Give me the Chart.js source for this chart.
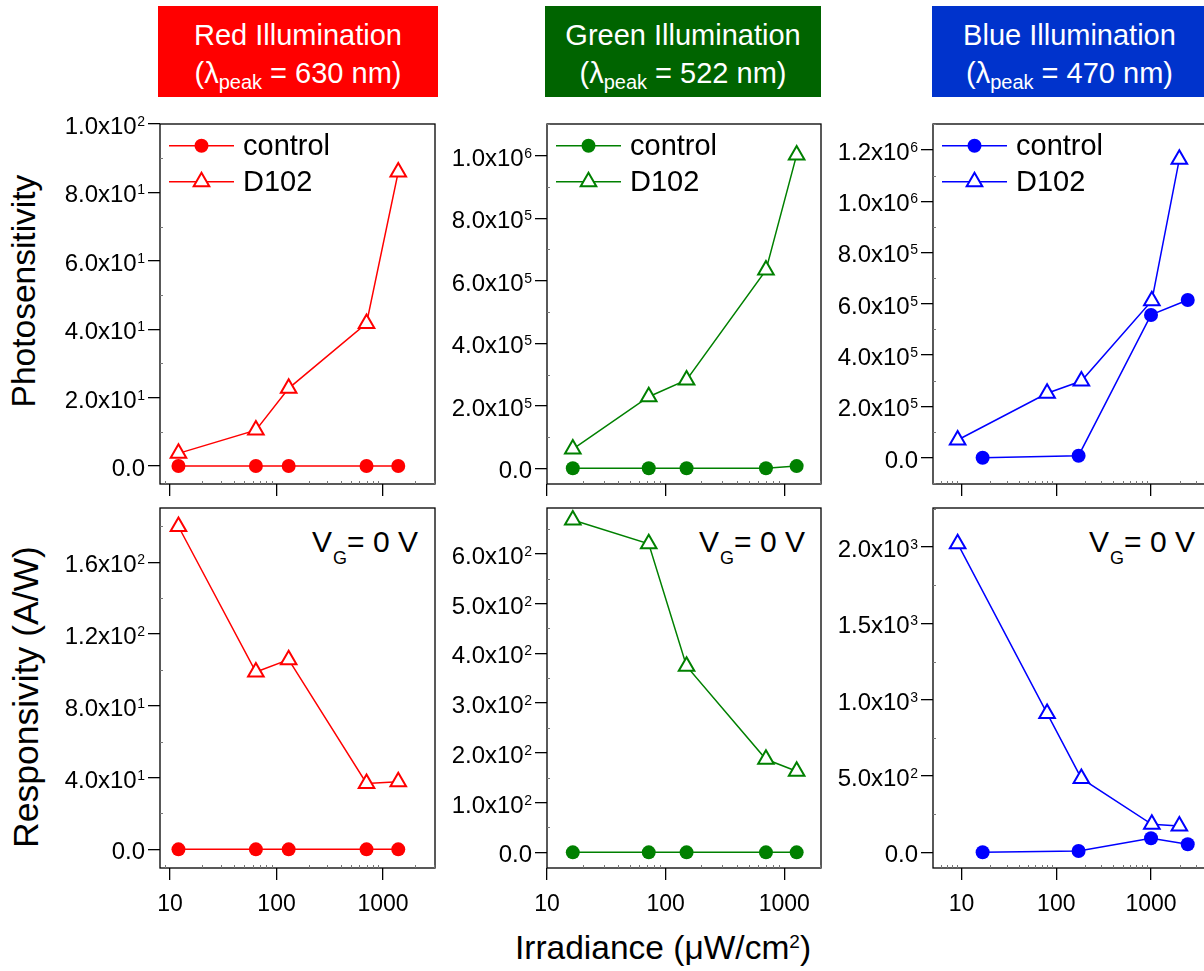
<!DOCTYPE html>
<html>
<head>
<meta charset="utf-8">
<script src="https://cdn.jsdelivr.net/npm/chart.js@4.4.1/dist/chart.umd.min.js"></script>
<style>
  html, body { margin:0; padding:0; }
  body { width:1204px; height:971px; overflow:hidden; background:#fff; position:relative;
         font-family:"Liberation Sans", Arial, sans-serif; color:#000; }
  canvas { position:absolute; }
  .tb { position:absolute; top:6px; height:91px; color:#fff; text-align:center; }
  .tb .l1, .tb .l2 { position:absolute; left:0; right:0; font-size:29px; line-height:30px; white-space:nowrap; }
  .tb .l1 { top:14px; }
  .tb .l2 { top:52px; }
  .tb .sub { font-size:20px; position:relative; top:6px; }
  .ytitle { position:absolute; width:420px; text-align:center; transform:rotate(-90deg); white-space:nowrap; }
  .xtitle { position:absolute; left:463px; width:400px; top:931.4px; font-size:33.5px; line-height:34px; text-align:center; white-space:nowrap; }
  .xtitle .sup { font-size:19px; position:relative; top:-11px; }
  .vg { position:absolute; top:527px; width:220px; text-align:right; font-size:30px; line-height:30px; white-space:nowrap; }
  .vg .vsub { font-size:18px; position:relative; top:12px; margin-left:1px; }
</style>
</head>
<body>

<div class="tb" style="left:158px;width:280px;background:#ff0000;">
  <div class="l1">Red Illumination</div>
  <div class="l2">(λ<span class="sub">peak</span> = 630 nm)</div>
</div>
<div class="tb" style="left:545px;width:276px;background:#006400;">
  <div class="l1">Green Illumination</div>
  <div class="l2">(λ<span class="sub">peak</span> = 522 nm)</div>
</div>
<div class="tb" style="left:932px;width:275px;background:#0033cc;">
  <div class="l1">Blue Illumination</div>
  <div class="l2">(λ<span class="sub">peak</span> = 470 nm)</div>
</div>

<div class="ytitle" style="left:-186px;top:274px;font-size:33.5px;line-height:34px;">Photosensitivity</div>
<div class="ytitle" style="left:-184px;top:679px;font-size:35.5px;line-height:36px;">Responsivity (A/W)</div>
<div class="xtitle">Irradiance (μW/cm<span class="sup">2</span>)</div>

<div class="vg" style="left:198px;">V<span class="vsub">G</span>= 0 V</div>
<div class="vg" style="left:585px;">V<span class="vsub">G</span>= 0 V</div>
<div class="vg" style="left:975px;">V<span class="vsub">G</span>= 0 V</div>

<script>
// ---------------- DATA ----------------
const seriesNames = ["control", "D102"];

// Red illumination (630 nm)
const redX = [12, 64, 130, 700, 1390];
const redPhotoControl = [0, 0, 0, 0, 0];
const redPhotoD102 = [3.7, 10.5, 22.7, 41.7, 86.0];
const redRespControl = [0, 0, 0, 0, 0];
const redRespD102 = [179.9, 98.8, 105.7, 36.7, 37.6];

// Green illumination (522 nm)
const greenX = [16.5, 72, 150, 700, 1270];
const greenPhotoControl = [0, 0, 0, 0, 7000];
const greenPhotoD102 = [61700, 229000, 282500, 634000, 1002600];
const greenRespControl = [0, 0, 0, 0, 0];
const greenRespD102 = [668, 620, 374, 187, 163];

// Blue illumination (470 nm)
const blueControlX = [16.7, 172, 1000, 2440];
const blueD102X = [9.1, 80, 184, 1020, 1990];
const bluePhotoControl = [0, 7800, 556600, 615000];
const bluePhotoD102 = [69000, 251000, 299000, 612000, 1164000];
const blueRespControl = [0, 8.5, 91.6, 52.4];
const blueRespD102 = [2022, 910, 484, 183, 172];

// Tick values and labels ("^" marks the exponent)
const xTicks = [10, 100, 1000];
const xTickLabels = ["10", "100", "1000"];

const redPhotoTicks = [0, 20, 40, 60, 80, 100];
const redPhotoLabels = ["0.0", "2.0x10^1", "4.0x10^1", "6.0x10^1", "8.0x10^1", "1.0x10^2"];
const greenPhotoTicks = [0, 200000, 400000, 600000, 800000, 1000000];
const greenPhotoLabels = ["0.0", "2.0x10^5", "4.0x10^5", "6.0x10^5", "8.0x10^5", "1.0x10^6"];
const bluePhotoTicks = [0, 200000, 400000, 600000, 800000, 1000000, 1200000];
const bluePhotoLabels = ["0.0", "2.0x10^5", "4.0x10^5", "6.0x10^5", "8.0x10^5", "1.0x10^6", "1.2x10^6"];

const redRespTicks = [0, 40, 80, 120, 160];
const redRespLabels = ["0.0", "4.0x10^1", "8.0x10^1", "1.2x10^2", "1.6x10^2"];
const greenRespTicks = [0, 100, 200, 300, 400, 500, 600];
const greenRespLabels = ["0.0", "1.0x10^2", "2.0x10^2", "3.0x10^2", "4.0x10^2", "5.0x10^2", "6.0x10^2"];
const blueRespTicks = [0, 500, 1000, 1500, 2000];
const blueRespLabels = ["0.0", "5.0x10^2", "1.0x10^3", "1.5x10^3", "2.0x10^3"];

// ---------------- LAYOUT / STYLE ----------------
const RED = "#ff0000", GREEN = "#008000", BLUE = "#0000ff";
const YW = 150, PT = 20, PR = 20, XH = 50;
const FONT = '"Liberation Sans", Arial, sans-serif';

Chart.defaults.font.family = FONT;
Chart.defaults.color = "#000";

const framePlugin = {
  id: "frame",
  beforeDatasetsDraw(chart) {
    const { ctx, chartArea: a, scales } = chart;
    ctx.save();
    ctx.strokeStyle = "#000";
    ctx.lineWidth = 1.3;
    ctx.strokeRect(a.left, a.top, a.right - a.left, a.bottom - a.top);
    // minor inward ticks (log x: 2..9 per decade; y: mid-points between major ticks)
    ctx.lineWidth = 1;
    ctx.strokeStyle = "#777";
    ctx.beginPath();
    const xs = scales.x;
    for (let d = 1; d <= 1000; d *= 10) {
      for (let m = 2; m <= 9; m++) {
        const v = m * d;
        if (v <= xs.min || v >= xs.max) continue;
        const px = Math.round(xs.getPixelForValue(v)) + 0.5;
        ctx.moveTo(px, a.bottom); ctx.lineTo(px, a.bottom - 3);
      }
    }
    const ys = scales.y;
    const yt = ys.ticks.map(t => t.value);
    const step = yt[1] - yt[0];
    for (let v = yt[0] - step / 2; v < ys.max; v += step) {
      if (v <= ys.min) continue;
      const py = Math.round(ys.getPixelForValue(v)) + 0.5;
      ctx.moveTo(a.left, py); ctx.lineTo(a.left + 3, py);
    }
    ctx.stroke();
    ctx.restore();
  }
};

// y tick labels in "m.mx10^e" form, drawn at the y scale's own tick positions
const sciLabels = {
  id: "sciLabels",
  afterDraw(chart, args, opts) {
    const { ctx, chartArea: a } = chart;
    const ys = chart.scales.y;
    const labels = opts.labels || [];
    const xr = a.left - 15;
    ctx.save();
    ctx.fillStyle = "#000";
    ctx.textAlign = "right";
    ctx.textBaseline = "alphabetic";
    ys.ticks.forEach((t, i) => {
      const lab = labels[i];
      if (lab === undefined) return;
      const y = ys.getPixelForValue(t.value);
      const base = y + 10;
      const parts = lab.split("^");
      let x = xr;
      if (parts.length > 1) {
        ctx.font = "14px " + FONT;
        ctx.fillText(parts[1], x, base - 8);
        x -= ctx.measureText(parts[1]).width + 0.5;
      }
      ctx.font = "24px " + FONT;
      ctx.fillText(parts[0], x, base);
    });
    ctx.restore();
  }
};

const insideLegend = {
  id: "insideLegend",
  afterDatasetsDraw(chart, args, opts) {
    if (!opts || !opts.show) return;
    const { ctx, chartArea: a } = chart;
    chart.data.datasets.forEach((ds, i) => {
      const y = a.top + 21.7 + i * 36;
      const x0 = a.left + 9;
      const xm = x0 + 32.5;
      ctx.save();
      ctx.strokeStyle = ds.borderColor;
      ctx.lineWidth = ds.borderWidth;
      ctx.beginPath(); ctx.moveTo(x0, y); ctx.lineTo(x0 + 65, y); ctx.stroke();
      if (ds.pointStyle === "circle") {
        ctx.fillStyle = ds.pointBackgroundColor;
        ctx.beginPath(); ctx.arc(xm, y, ds.pointRadius, 0, Math.PI * 2); ctx.fill();
      } else {
        const r = ds.pointRadius;
        ctx.fillStyle = "#fff";
        ctx.lineWidth = ds.pointBorderWidth;
        ctx.strokeStyle = ds.pointBorderColor;
        ctx.beginPath();
        for (let k = 0; k < 3; k++) {
          const ang = k * 2 * Math.PI / 3;
          const px = xm + Math.sin(ang) * r, py = y - Math.cos(ang) * r;
          if (k === 0) ctx.moveTo(px, py); else ctx.lineTo(px, py);
        }
        ctx.closePath(); ctx.fill(); ctx.stroke();
      }
      ctx.fillStyle = "#000";
      ctx.font = "29px " + FONT;
      ctx.textBaseline = "middle";
      ctx.textAlign = "left";
      ctx.fillText(ds.label, a.left + 83, y + 1);
      ctx.restore();
    });
  }
};

function pts(xs, ys) { return xs.map((x, i) => ({ x: x, y: ys[i] })); }

function makeDatasets(color, cx, cy, dx, dy) {
  return [
    { label: seriesNames[0], data: pts(cx, cy), borderColor: color, backgroundColor: color,
      borderWidth: 1.5, pointStyle: "circle", pointRadius: 7, pointBorderWidth: 0,
      pointBackgroundColor: color, pointBorderColor: color, tension: 0, clip: false, order: 1 },
    { label: seriesNames[1], data: pts(dx, dy), borderColor: color, backgroundColor: "#fff",
      borderWidth: 1.5, pointStyle: "triangle", pointRadius: 9, pointBorderWidth: 2,
      pointBackgroundColor: "#fff", pointBorderColor: color, tension: 0, clip: false, order: 0 }
  ];
}

function makePanel(g, xr, yr, yT, yL, datasets, showXLabels, showLegend) {
  const c = document.createElement("canvas");
  const W = YW + (g.R - g.L) + PR, H = PT + (g.B - g.T) + XH;
  c.width = W; c.height = H;
  c.style.left = (g.L - YW) + "px"; c.style.top = (g.T - PT) + "px";
  c.style.width = W + "px"; c.style.height = H + "px";
  document.body.appendChild(c);
  new Chart(c, {
    type: "line",
    data: { datasets: datasets },
    options: {
      responsive: false, animation: false, devicePixelRatio: 1,
      layout: { padding: { left: 0, top: PT, right: PR, bottom: 0 } },
      plugins: { legend: { display: false }, tooltip: { enabled: false },
                 insideLegend: { show: showLegend }, sciLabels: { labels: yL } },
      scales: {
        x: {
          type: "logarithmic", min: xr[0], max: xr[1], bounds: "data",
          afterBuildTicks: s => { s.ticks = xTicks.map(v => ({ value: v, major: true })); },
          afterFit: s => { s.height = XH; },
          border: { display: false },
          grid: { drawOnChartArea: false, drawTicks: true, tickLength: 12, color: "#000", lineWidth: 1.3 },
          ticks: { display: showXLabels, autoSkip: false, maxRotation: 0, padding: 11,
                   font: { size: 23 }, color: "#000", callback: (v, i) => xTickLabels[i] }
        },
        y: {
          type: "linear", min: yr[0], max: yr[1], bounds: "data",
          afterBuildTicks: s => { s.ticks = yT.map(v => ({ value: v })); },
          afterFit: s => { s.width = YW; },
          border: { display: false },
          grid: { drawOnChartArea: false, drawTicks: true, tickLength: 12, color: "#000", lineWidth: 1.3 },
          ticks: { display: false, autoSkip: false, callback: (v, i) => yL[i] }
        }
      }
    },
    plugins: [framePlugin, insideLegend, sciLabels]
  });
}

const rowTop = { T: 124, B: 484 }, rowBot = { T: 508, B: 868 };
const colR = { L: 160, R: 435 }, colG = { L: 547, R: 821 }, colB = { L: 933, R: 1211 };

makePanel({ ...colR, ...rowTop }, [8.05, 3076], [-5.26, 100], redPhotoTicks, redPhotoLabels,
  makeDatasets(RED, redX, redPhotoControl, redX, redPhotoD102), false, true);
makePanel({ ...colG, ...rowTop }, [10, 2037], [-50200, 1101400], greenPhotoTicks, greenPhotoLabels,
  makeDatasets(GREEN, greenX, greenPhotoControl, greenX, greenPhotoD102), false, true);
makePanel({ ...colB, ...rowTop }, [5.0, 4295], [-102600, 1301000], bluePhotoTicks, bluePhotoLabels,
  makeDatasets(BLUE, blueControlX, bluePhotoControl, blueD102X, bluePhotoD102), false, true);

makePanel({ ...colR, ...rowBot }, [8.05, 3076], [-10.4, 190.2], redRespTicks, redRespLabels,
  makeDatasets(RED, redX, redRespControl, redX, redRespD102), true, false);
makePanel({ ...colG, ...rowBot }, [10, 2037], [-31.5, 692], greenRespTicks, greenRespLabels,
  makeDatasets(GREEN, greenX, greenRespControl, greenX, greenRespD102), true, false);
makePanel({ ...colB, ...rowBot }, [5.0, 4295], [-103, 2256], blueRespTicks, blueRespLabels,
  makeDatasets(BLUE, blueControlX, blueRespControl, blueD102X, blueRespD102), true, false);
</script>
</body>
</html>
